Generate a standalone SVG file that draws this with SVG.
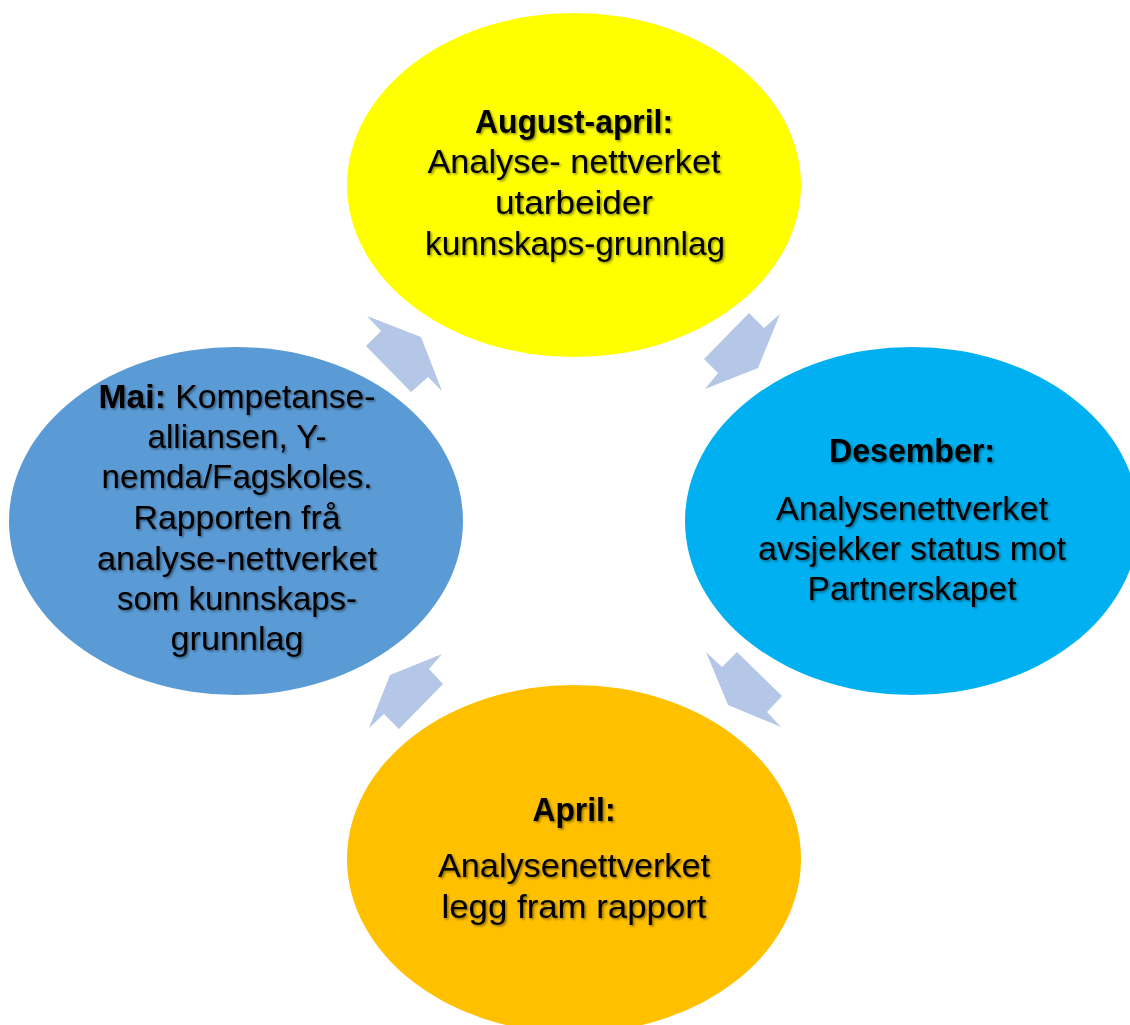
<svg xmlns="http://www.w3.org/2000/svg" width="1130" height="1025" viewBox="0 0 1130 1025">
<defs>
<filter id="ts" x="-10%" y="-30%" width="120%" height="160%">
<feDropShadow dx="1.5" dy="1.5" stdDeviation="1" flood-color="#000" flood-opacity="0.45"/>
</filter>
</defs>
<style>
text{font-family:"Liberation Sans",Arial,sans-serif;font-size:33px;fill:#000;text-anchor:middle;filter:url(#ts)}
.b{font-weight:bold}
.arrow{fill:#B4C7E7;stroke:none}
</style>
<rect width="1130" height="1025" fill="#fff"/>
<g id="connectors">
<polygon class="arrow" points="749,313 764,328 780,314 758,368 705,389 718,373 704,359"/>
<polygon class="arrow" points="706,652 722,667 737,652 782,696 767,712 781,727 728,705"/>
<polygon class="arrow" points="442,654 429,669 443,684 399,729 384,714 369,728 390,675"/>
<polygon class="arrow" points="367,316 381,331 366,346 411,392 428,377 442,391 421,337"/>
</g>
<g id="node-august">
<ellipse cx="574" cy="185" rx="227" ry="172" fill="#FFFF00"/>
<text x="574" y="133" class="b" textLength="198" lengthAdjust="spacingAndGlyphs">August-april:</text>
<text x="574" y="173" textLength="293" lengthAdjust="spacingAndGlyphs">Analyse- nettverket</text>
<text x="574" y="214" textLength="158" lengthAdjust="spacingAndGlyphs">utarbeider</text>
<text x="575" y="255" textLength="300" lengthAdjust="spacingAndGlyphs">kunnskaps-grunnlag</text>
</g>
<g id="node-desember">
<ellipse cx="912" cy="521" rx="227" ry="174" fill="#00B0F0"/>
<text x="912" y="462" class="b" textLength="166" lengthAdjust="spacingAndGlyphs">Desember:</text>
<text x="912" y="520" textLength="272" lengthAdjust="spacingAndGlyphs">Analysenettverket</text>
<text x="912" y="560" textLength="308" lengthAdjust="spacingAndGlyphs">avsjekker status mot</text>
<text x="912" y="600" textLength="209" lengthAdjust="spacingAndGlyphs">Partnerskapet</text>
</g>
<g id="node-april">
<ellipse cx="574" cy="859" rx="227" ry="174" fill="#FFC000"/>
<text x="574" y="821" class="b" textLength="83" lengthAdjust="spacingAndGlyphs">April:</text>
<text x="574" y="877" textLength="272" lengthAdjust="spacingAndGlyphs">Analysenettverket</text>
<text x="574" y="918" textLength="265" lengthAdjust="spacingAndGlyphs">legg fram rapport</text>
</g>
<g id="node-mai">
<ellipse cx="236" cy="521" rx="227" ry="174" fill="#5B9BD5"/>
<text x="237" y="408" textLength="277" lengthAdjust="spacingAndGlyphs"><tspan class="b">Mai:</tspan> Kompetanse-</text>
<text x="237" y="448" textLength="179" lengthAdjust="spacingAndGlyphs">alliansen, Y-</text>
<text x="237" y="488" textLength="271" lengthAdjust="spacingAndGlyphs">nemda/Fagskoles.</text>
<text x="237" y="529" textLength="207" lengthAdjust="spacingAndGlyphs">Rapporten frå</text>
<text x="237" y="570" textLength="280" lengthAdjust="spacingAndGlyphs">analyse-nettverket</text>
<text x="237" y="610" textLength="240" lengthAdjust="spacingAndGlyphs">som kunnskaps-</text>
<text x="237" y="650" textLength="133" lengthAdjust="spacingAndGlyphs">grunnlag</text>
</g>
</svg>
